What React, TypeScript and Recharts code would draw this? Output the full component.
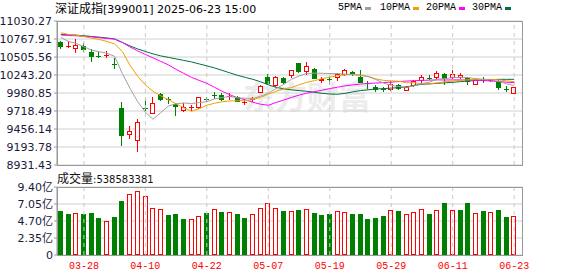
import React from 'react';
import { ComposedChart, Bar, Line, XAxis, YAxis, CartesianGrid, ReferenceLine } from 'recharts';

// 交易日
const dates = [
  '03-25', '03-26', '03-27', '03-28', '03-31', '04-01', '04-02', '04-03', '04-07', '04-08',
  '04-09', '04-10', '04-11', '04-14', '04-15', '04-16', '04-17', '04-18', '04-21', '04-22',
  '04-23', '04-24', '04-25', '04-28', '04-29', '04-30', '05-06', '05-07', '05-08', '05-09',
  '05-12', '05-13', '05-14', '05-15', '05-16', '05-19', '05-20', '05-21', '05-22', '05-23',
  '05-26', '05-27', '05-28', '05-29', '05-30', '06-03', '06-04', '06-05', '06-06', '06-09',
  '06-10', '06-11', '06-12', '06-13', '06-16', '06-17', '06-18', '06-19', '06-20', '06-23',
];

const opens = [
  10722, 10662, 10641, 10670, 10583, 10524, 10528, 10410, 9759, 9376,
  9289, 9780, 9696, 9962, 9900, 9827, 9734, 9776, 9773, 9900,
  9958, 9952, 9932, 9929, 9846, 9889, 10001, 10219, 10103, 10195,
  10248, 10413, 10296, 10335, 10170, 10190, 10209, 10257, 10286, 10219,
  10130, 10073, 10040, 10035, 10103, 10025, 10103, 10170, 10214, 10219,
  10257, 10209, 10219, 10199, 10112, 10178, 10170, 10151, 10050, 9977,
];
const highs = [
  10742, 10732, 10761, 10707, 10616, 10597, 10587, 10485, 9846, 9501,
  9599, 9889, 9918, 9977, 9929, 9831, 9841, 9802, 9929, 9929,
  10001, 9987, 9987, 9933, 9894, 9929, 10093, 10257, 10228, 10209,
  10318, 10423, 10432, 10340, 10219, 10219, 10277, 10335, 10306, 10315,
  10151, 10103, 10064, 10151, 10112, 10083, 10170, 10238, 10248, 10306,
  10267, 10315, 10277, 10219, 10188, 10209, 10190, 10190, 10083, 10066,
];
const lows = [
  10635, 10658, 10577, 10597, 10446, 10500, 10500, 10350, 9225, 9318,
  9129, 9740, 9686, 9879, 9831, 9667, 9715, 9734, 9758, 9860,
  9904, 9879, 9889, 9865, 9821, 9870, 9996, 10122, 10083, 10122,
  10209, 10286, 10257, 10195, 10146, 10112, 10170, 10248, 10248, 10138,
  10049, 10016, 10006, 10025, 10045, 10022, 10083, 10141, 10190, 10199,
  10112, 10199, 10199, 10112, 10110, 10141, 10151, 10035, 10016, 9974,
];
const closes = [
  10672, 10666, 10678, 10626, 10525, 10518, 10535, 10402, 9370, 9434,
  9551, 9766, 9841, 9898, 9892, 9792, 9775, 9780, 9918, 9894,
  9952, 9889, 9937, 9870, 9850, 9894, 10088, 10132, 10209, 10146,
  10315, 10296, 10369, 10199, 10190, 10184, 10257, 10315, 10257, 10141,
  10126, 10044, 10035, 10112, 10054, 10073, 10151, 10212, 10206, 10277,
  10199, 10257, 10248, 10151, 10185, 10172, 10176, 10073, 10045, 10064,
];
const prevClose = 10700; // 03-24 收盘, 只用来给第一根量柱定颜色

// 成交量, 单位: 亿
const volumes = [
  6.11, 5.7, 5.79, 5.7, 5.83, 5.14, 4.68, 5.28, 7.5, 8.43,
  8.84, 8.15, 6.48, 6.34, 5.56, 5.7, 5.0, 4.95, 5.37, 5.83,
  6.34, 5.97, 5.93, 5.7, 5.14, 5.65, 6.48, 7.13, 6.48, 6.11,
  6.07, 6.25, 6.39, 5.83, 5.56, 5.7, 6.07, 5.93, 5.7, 5.7,
  5.0, 5.14, 5.42, 6.2, 6.11, 5.65, 5.93, 6.34, 5.7, 6.25,
  7.22, 6.25, 6.25, 7.22, 5.79, 6.11, 5.93, 6.25, 5.28, 5.39,
];

const ma5 = [
  10790, 10732, 10703, 10655, 10606, 10583, 10560, 10515, 10265, 10050,
  9855, 9700, 9598, 9695, 9790, 9825, 9835, 9828, 9840, 9855,
  9895, 9915, 9930, 9910, 9905, 9900, 9935, 9980, 10045, 10105,
  10180, 10228, 10267, 10270, 10268, 10265, 10262, 10255, 10250, 10236,
  10218, 10178, 10125, 10094, 10074, 10064, 10086, 10118, 10140, 10182,
  10190, 10203, 10210, 10205, 10190, 10180, 10172, 10150, 10115, 10090,
];
const ma10 = [
  10859, 10834, 10824, 10805, 10780, 10761, 10732, 10696, 10587, 10384,
  10224, 10100, 10005, 9940, 9882, 9824, 9766, 9715, 9751, 9802,
  9831, 9853, 9865, 9868, 9870, 9885, 9918, 9962, 10005, 10042,
  10059, 10100, 10136, 10161, 10190, 10212, 10231, 10245, 10253, 10245,
  10223, 10187, 10165, 10158, 10151, 10132, 10129, 10114, 10114, 10129,
  10144, 10155, 10165, 10173, 10180, 10180, 10180, 10173, 10158, 10147,
];
const ma20 = [
  10827, 10819, 10815, 10805, 10798, 10786, 10776, 10766, 10718, 10652,
  10594, 10543, 10493, 10442, 10391, 10325, 10267, 10209, 10165, 10122,
  10064, 10005, 9955, 9911, 9882, 9846, 9817, 9802, 9842, 9878,
  9915, 9950, 9978, 10000, 10022, 10045, 10065, 10085, 10100, 10112,
  10120, 10126, 10132, 10140, 10148, 10155, 10160, 10165, 10168, 10172,
  10170, 10172, 10172, 10170, 10166, 10162, 10156, 10147, 10138, 10132,
];
const ma30 = [
  10834, 10830, 10824, 10815, 10805, 10795, 10783, 10769, 10718, 10667,
  10623, 10587, 10551, 10522, 10500, 10478, 10456, 10434, 10405, 10376,
  10347, 10311, 10274, 10238, 10209, 10180, 10144, 10100, 10064, 10042,
  10027, 10016, 10005, 9991, 9976, 9966, 9962, 9976, 9998, 10016,
  10027, 10039, 10045, 10052, 10059, 10071, 10093, 10107, 10114, 10122,
  10129, 10136, 10147, 10155, 10162, 10169, 10174, 10180, 10180, 10180,
];

const priceTicks = [8931.43, 9193.78, 9456.14, 9718.49, 9980.85, 10243.2, 10505.56, 10767.91, 11030.27];
const volTicks = [0, 2.35, 4.7, 7.05, 9.4];
const dateLabels = ['03-28', '04-10', '04-22', '05-07', '05-19', '05-29', '06-11', '06-23'];

const UP = '#ff0000';
const DOWN = '#008000';
const GRID = '#d0d0d0';
const FRAME = '#999999';
const AXIS_TEXT = '#1a1a3a';

const data = dates.map((date, i) => ({
  date,
  open: opens[i],
  high: highs[i],
  low: lows[i],
  close: closes[i],
  vol: volumes[i],
  volUp: closes[i] >= (i ? closes[i - 1] : prevClose),
  ma5: ma5[i],
  ma10: ma10[i],
  ma20: ma20[i],
  ma30: ma30[i],
}));

// K线: 阳线空心红, 阴线实心绿, 开收接近时画十字
const Candle = (props: any) => {
  const { x, y, width, height, payload } = props;
  if (!payload || x == null || y == null) return null;
  const { open, close, high, low } = payload;
  const top = Math.min(y, y + height);
  const span = Math.abs(height);
  const toY = (p: number) => top + ((high - p) / (high - low)) * span;
  const cx = Math.round(x + width / 2 - 0.5);
  const wx = cx + 0.5;
  const up = close >= open;
  const color = up ? UP : DOWN;
  const yH = Math.round(toY(high));
  const yL = Math.round(toY(low));
  const yO = Math.round(toY(open));
  const yC = Math.round(toY(close));
  if (Math.abs(toY(open) - toY(close)) < 1.2) {
    return (
      <g>
        <line x1={wx} x2={wx} y1={yH} y2={yL + 1} stroke={color} />
        <line x1={cx - 2} x2={cx + 3} y1={yC + 0.5} y2={yC + 0.5} stroke={color} />
      </g>
    );
  }
  if (up) {
    return (
      <g>
        <line x1={wx} x2={wx} y1={yH} y2={yC} stroke={color} />
        <line x1={wx} x2={wx} y1={yO} y2={yL + 1} stroke={color} />
        <rect x={cx - 1.5} y={yC + 0.5} width={4} height={Math.max(1, yO - yC)} fill="#fff" stroke={color} />
      </g>
    );
  }
  return (
    <g>
      <line x1={wx} x2={wx} y1={yH} y2={yL + 1} stroke={color} />
      <rect x={cx - 2} y={yO} width={5} height={Math.max(1, yC - yO + 1)} fill={color} />
    </g>
  );
};

const VolBar = (props: any) => {
  const { x, y, width, height, payload } = props;
  if (!payload || x == null || y == null) return null;
  const cx = Math.round(x + width / 2 - 0.5);
  const t = Math.round(Math.min(y, y + height));
  const b = Math.round(Math.max(y, y + height));
  if (payload.volUp) {
    return <rect x={cx - 1.5} y={t + 0.5} width={4} height={Math.max(1, b - t - 1)} fill="#fff" stroke={UP} />;
  }
  return <rect x={cx - 2} y={t} width={5} height={b - t} fill={DOWN} />;
};

const DateTick = (props: any) => {
  const { x, y, payload } = props;
  if (!dateLabels.includes(payload.value)) return <g />;
  return (
    <text x={x} y={y} dy={14} textAnchor="middle" fill={UP} fontSize={10} fontFamily="Liberation Mono, monospace">
      {payload.value}
    </text>
  );
};

const monoSmall: React.CSSProperties = { fontFamily: 'Liberation Mono, monospace', fontSize: 10, color: '#000' };
const abs = (left: number, top: number, extra: React.CSSProperties = {}): React.CSSProperties => ({
  position: 'absolute',
  left,
  top,
  whiteSpace: 'nowrap',
  lineHeight: '14px',
  ...extra,
});

const legend = [
  { label: '5PMA', x: 338, sx: 365, color: '#a0a0a0' },
  { label: '10PMA', x: 380, sx: 413, color: '#f0a000' },
  { label: '20PMA', x: 426, sx: 459, color: '#ff00ff' },
  { label: '30PMA', x: 472, sx: 505, color: '#00703c' },
];

export default function App() {
  return (
    <div style={{ position: 'absolute', left: 0, top: 0, width: 578, height: 276, background: '#fff', overflow: 'hidden' }}>
      {/* 水印 */}
      <div
        style={abs(243, 76, {
          fontFamily: 'Noto Sans CJK SC',
          fontSize: 32,
          fontWeight: 700,
          color: '#ececec',
          lineHeight: '38px',
        })}
      >
        东方财富
      </div>

      {/* 标题 */}
      <div style={abs(55, 1, { fontSize: 12, color: '#000' })}>
        <span style={{ fontFamily: 'Noto Sans CJK SC' }}>深证成指</span>
        <span style={{ fontFamily: 'DejaVu Sans', fontSize: 11 }}>[399001] 2025-06-23 15:00</span>
      </div>

      {/* 均线图例 */}
      {legend.map((l) => (
        <React.Fragment key={l.label}>
          <div style={abs(l.x, 1, monoSmall)}>{l.label}</div>
          <div style={{ position: 'absolute', left: l.sx, top: 7, width: 6, height: 3, background: l.color }} />
        </React.Fragment>
      ))}

      {/* K线 + 均线 */}
      <div style={{ position: 'absolute', left: 0, top: 0 }}>
        <ComposedChart width={578} height={172} data={data} margin={{ top: 21, right: 56, bottom: 7, left: 0 }}>
          <CartesianGrid vertical={false} stroke={GRID} />
          <XAxis dataKey="date" hide padding={{ left: 0, right: 4 }} />
          <YAxis
            domain={[8931.43, 11030.27]}
            ticks={priceTicks}
            interval={0}
            allowDataOverflow
            width={57}
            tickSize={3}
            tickMargin={2}
            axisLine={{ stroke: FRAME }}
            tickLine={{ stroke: FRAME }}
            tick={{ fill: AXIS_TEXT, fontSize: 11, fontFamily: 'DejaVu Sans' }}
            tickFormatter={(v: number) => v.toFixed(2)}
          />
          {dateLabels.map((d) => (
            <ReferenceLine key={d} x={d} stroke="#c8c8c8" strokeDasharray="4 4" />
          ))}
          <Bar dataKey={(d: any) => [d.low, d.high]} barSize={5} shape={Candle} isAnimationActive={false} />
          <Line type="linear" dataKey="ma30" stroke="#00703c" strokeWidth={1} dot={false} isAnimationActive={false} />
          <Line type="linear" dataKey="ma20" stroke="#ff00ff" strokeWidth={1} dot={false} isAnimationActive={false} />
          <Line type="linear" dataKey="ma10" stroke="#f0a000" strokeWidth={1} dot={false} isAnimationActive={false} />
          <Line type="linear" dataKey="ma5" stroke="#a0a0a0" strokeWidth={1} dot={false} isAnimationActive={false} />
        </ComposedChart>
      </div>

      {/* 成交量 */}
      <div style={abs(57, 171, { fontSize: 12, color: '#111' })}>
        <span style={{ fontFamily: 'Noto Sans CJK SC' }}>成交量</span>
        <span style={{ fontFamily: 'DejaVu Sans', fontSize: 10 }}>:538583381</span>
      </div>
      <div style={{ position: 'absolute', left: 0, top: 165 }}>
        <ComposedChart width={578} height={111} data={data} margin={{ top: 22, right: 56, bottom: 0, left: 0 }}>
          <CartesianGrid vertical={false} stroke={GRID} />
          <XAxis
            dataKey="date"
            padding={{ left: 0, right: 4 }}
            interval={0}
            height={21}
            axisLine={false}
            tickLine={false}
            tickSize={0}
            tickMargin={0}
            tick={DateTick}
          />
          <YAxis
            domain={[0, 9.4]}
            ticks={volTicks}
            interval={0}
            allowDataOverflow
            width={57}
            tickSize={3}
            tickMargin={1}
            axisLine={{ stroke: FRAME }}
            tickLine={{ stroke: FRAME }}
            tick={{ fill: AXIS_TEXT, fontSize: 11, fontFamily: 'DejaVu Sans, Noto Sans CJK SC' }}
            tickFormatter={(v: number) => (v === 0 ? '0' : v.toFixed(2) + '亿')}
          />
          {dateLabels.map((d) => (
            <ReferenceLine key={d} x={d} stroke="#c8c8c8" strokeDasharray="4 4" />
          ))}
          <Bar dataKey="vol" barSize={5} shape={VolBar} isAnimationActive={false} />
        </ComposedChart>
      </div>

      {/* 边框 */}
      <div style={{ position: 'absolute', left: 57, top: 21, width: 466, height: 145, boxSizing: 'border-box', border: `1px solid ${FRAME}`, pointerEvents: 'none' }} />
      <div style={{ position: 'absolute', left: 57, top: 187, width: 466, height: 69, boxSizing: 'border-box', border: `1px solid ${FRAME}`, pointerEvents: 'none' }} />
    </div>
  );
}
